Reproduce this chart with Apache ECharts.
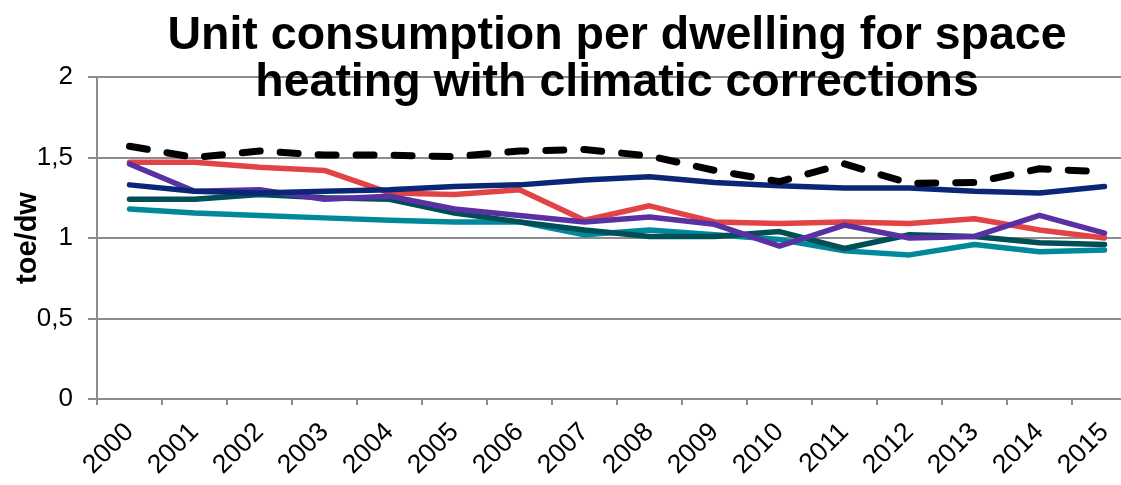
<!DOCTYPE html>
<html>
<head>
<meta charset="utf-8">
<script src="https://cdn.jsdelivr.net/npm/echarts@6/dist/echarts.min.js"></script>
<style>html,body{margin:0;padding:0;background:#fff}#c{width:1121px;height:485px}</style>
</head>
<body>
<div id="c"></div>
<script>
const years = ['2000','2001','2002','2003','2004','2005','2006','2007','2008','2009','2010','2011','2012','2013','2014','2015'];
const seriesBlack = [1.57,1.50,1.54,1.515,1.515,1.505,1.54,1.55,1.51,1.42,1.35,1.46,1.34,1.345,1.43,1.41];
const seriesNavy  = [1.33,1.29,1.28,1.29,1.30,1.32,1.33,1.36,1.38,1.345,1.325,1.31,1.31,1.29,1.28,1.32];
const seriesRed   = [1.47,1.47,1.44,1.42,1.28,1.27,1.30,1.11,1.20,1.10,1.09,1.10,1.09,1.12,1.05,1.00];
const seriesPurple= [1.46,1.29,1.30,1.24,1.26,1.18,1.14,1.10,1.13,1.085,0.95,1.08,1.00,1.01,1.14,1.03];
const seriesDark  = [1.24,1.24,1.27,1.25,1.24,1.155,1.10,1.05,1.01,1.01,1.04,0.935,1.02,1.01,0.97,0.96];
const seriesTeal  = [1.18,1.155,1.14,1.125,1.11,1.10,1.10,1.02,1.05,1.02,0.99,0.92,0.895,0.96,0.915,0.925];
const yTicks = [0, 0.5, 1, 1.5, 2];

const chart = echarts.init(document.getElementById('c'));
function line(name, data, color, dashed) {
  return {
    name: name, type: 'line', data: data, symbol: 'none', smooth: false,
    lineStyle: dashed ? {color: color, width: 7, type: [18, 20], cap: 'round'} : {color: color, width: 5.5, cap: 'round', join: 'round'},
    z: dashed ? 10 : 2
  };
}
chart.setOption({
  animation: false,
  backgroundColor: '#fff',
  title: {
    text: 'Unit consumption per dwelling for space\nheating with climatic corrections',
    left: 612, top: 8, textAlign: 'center',
    textStyle: {fontFamily: 'Liberation Sans', fontWeight: 'bold', fontSize: 46.5, lineHeight: 47, color: '#000'}
  },
  grid: {left: 97, top: 77, width: 1040, height: 322, outerBoundsMode: 'none', containLabel: false},
  xAxis: {
    type: 'category', data: years, boundaryGap: true,
    axisLine: {lineStyle: {color: '#8c8c8c', width: 2}},
    axisTick: {show: true, length: 6, lineStyle: {color: '#8c8c8c', width: 2}},
    axisLabel: {rotate: 45, margin: 29, align: 'right', verticalAlign: 'middle',
      fontFamily: 'Liberation Sans', fontSize: 26.5, color: '#000'},
    splitLine: {show: false}
  },
  yAxis: {
    type: 'value', min: 0, max: 2, interval: 0.5,
    name: 'toe/dw', nameLocation: 'middle', nameGap: 55, nameRotate: 90, nameMoveOverlap: false,
    nameTextStyle: {fontFamily: 'Liberation Sans', fontWeight: 'bold', fontSize: 29, color: '#000'},
    axisLine: {show: true, lineStyle: {color: '#8c8c8c', width: 2}},
    axisTick: {show: true, inside: false, length: 9, lineStyle: {color: '#8c8c8c', width: 2}},
    axisLabel: {margin: 24, fontFamily: 'Liberation Sans', fontSize: 26, color: '#000',
      formatter: v => yTicks.includes(v) ? String(v).replace('.', ',') : ''},
    splitLine: {show: true, lineStyle: {color: '#8c8c8c', width: 2}}
  },
  series: [
    line('Teal', seriesTeal, '#00899A', false),
    line('Dark', seriesDark, '#004E56', false),
    line('Red', seriesRed, '#E24446', false),
    line('Purple', seriesPurple, '#5A31A3', false),
    line('Navy', seriesNavy, '#0A2777', false),
    line('Black', seriesBlack, '#000000', true)
  ]
});
</script>
</body>
</html>
